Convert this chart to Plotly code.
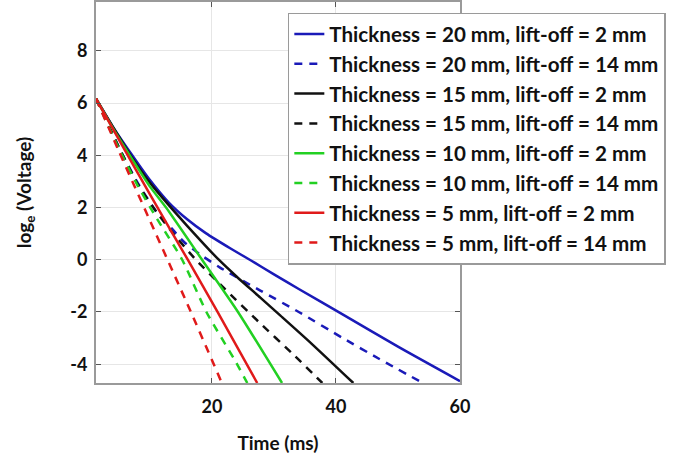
import plotly.graph_objects as go

# Time (ms) and log_e(Voltage) values
t_20_2 = [1.3, 4, 7, 10, 13, 16, 19, 23, 26.3, 30, 34, 41, 50, 60]
y_20_2 = [6.17, 5.1, 4.05, 3.05, 2.2, 1.55, 1.02, 0.43, -0.03, -0.56, -1.12, -2.08, -3.33, -4.65]

t_20_14 = [1.3, 5, 8, 11, 13.5, 15.5, 18.1, 21.3, 27.8, 34, 41.1, 47, 54]
y_20_14 = [6.17, 4.3, 2.95, 1.85, 1.2, 0.68, 0.2, -0.3, -1.18, -2.0, -3.0, -3.8, -4.72]

t_15_2 = [1.3, 4, 7, 10, 13, 16, 21.1, 24, 27.8, 31, 36, 42.8]
y_15_2 = [6.17, 5.1, 3.95, 2.95, 2.1, 1.3, 0.0, -0.65, -1.45, -2.13, -3.2, -4.72]

t_15_14 = [1.3, 5, 8, 11.3, 13.6, 17.4, 22, 27.8, 33, 37.8]
y_15_14 = [6.17, 4.3, 2.9, 1.75, 1.05, 0.0, -1.1, -2.44, -3.6, -4.72]

t_10_2 = [1.3, 4, 7, 10, 12.6, 18.4, 24.2, 31.3]
y_10_2 = [6.17, 5.05, 3.9, 2.8, 2.0, 0.0, -2.0, -4.72]

t_10_14 = [1.3, 5, 8, 10.8, 15.2, 19.1, 23.7, 25.7]
y_10_14 = [6.17, 4.25, 2.85, 1.7, 0.0, -2.0, -3.85, -4.72]

t_5_2 = [1.3, 5, 10, 16.1, 20.9, 27.3]
y_5_2 = [6.17, 4.6, 2.5, 0.0, -2.0, -4.72]

t_5_14 = [1.3, 5, 10, 16.6, 21.6]
y_5_14 = [6.17, 4.15, 1.5, -2.0, -4.72]

names = [
    "Thickness = 20 mm, lift-off = 2 mm",
    "Thickness = 20 mm, lift-off = 14 mm",
    "Thickness = 15 mm, lift-off = 2 mm",
    "Thickness = 15 mm, lift-off = 14 mm",
    "Thickness = 10 mm, lift-off = 2 mm",
    "Thickness = 10 mm, lift-off = 14 mm",
    "Thickness = 5 mm, lift-off = 2 mm",
    "Thickness = 5 mm, lift-off = 14 mm",
]
series = [
    (t_20_2, y_20_2), (t_20_14, y_20_14),
    (t_15_2, y_15_2), (t_15_14, y_15_14),
    (t_10_2, y_10_2), (t_10_14, y_10_14),
    (t_5_2, y_5_2), (t_5_14, y_5_14),
]
colors = ["#1a1ab8", "#1a1ab8", "#111111", "#111111",
          "#22d022", "#22d022", "#e01a1a", "#e01a1a"]
dashes = ["solid", "8px,7px"] * 4

x_ticks = [20, 40, 60]
y_ticks = [-4, -2, 0, 2, 4, 6, 8]

fig = go.Figure()
for (tx, yy), nm, c, d in zip(series, names, colors, dashes):
    fig.add_trace(go.Scatter(x=tx, y=yy, mode="lines", name=nm,
                             line=dict(color=c, width=2.5, dash=d, shape="spline", smoothing=0.6)))

font_family = "Lato, 'Open Sans', sans-serif"
fig.update_layout(
    width=691, height=457,
    margin=dict(l=96, r=231, t=0, b=74),
    paper_bgcolor="white", plot_bgcolor="white",
    font=dict(family=font_family, color="#111111"),
    showlegend=True,
    legend=dict(
        x=0.527, y=0.972, xref="paper", yref="paper",
        xanchor="left", yanchor="top",
        bgcolor="white", bordercolor="#9a9a9a", borderwidth=1.5,
        font=dict(size=20.6, family=font_family, color="#111111", weight="bold"),
        itemwidth=30, tracegroupgap=0,
    ),
    xaxis=dict(
        range=[1.3, 60], tickvals=x_ticks, ticktext=[str(v) for v in x_ticks],
        showgrid=True, gridcolor="#e6e6e6", gridwidth=1,
        showline=True, linecolor="#9a9a9a", linewidth=2, mirror="ticks",
        ticks="inside", ticklen=5, tickcolor="#555555", zeroline=False,
        tickfont=dict(size=18, family=font_family, weight="bold"),
        ticklabelstandoff=6,
        title=dict(text="<b>Time (ms)</b>", font=dict(size=19, family=font_family), standoff=21),
    ),
    yaxis=dict(
        range=[-4.72, 9.87], tickvals=y_ticks, ticktext=[str(v) for v in y_ticks],
        showgrid=True, gridcolor="#e6e6e6", gridwidth=1,
        showline=True, linecolor="#9a9a9a", linewidth=2, mirror="ticks",
        ticks="inside", ticklen=5, tickcolor="#555555", zeroline=False,
        tickfont=dict(size=18, family=font_family, weight="bold"),
        ticklabelstandoff=3,
        title=dict(text="<b>log<sub>e</sub> (Voltage)</b>", font=dict(size=19, family=font_family), standoff=34),
    ),
)

fig.write_html("out.html", config={"displayModeBar": False},
               post_script="document.body.style.margin='0';document.body.style.padding='0';")
